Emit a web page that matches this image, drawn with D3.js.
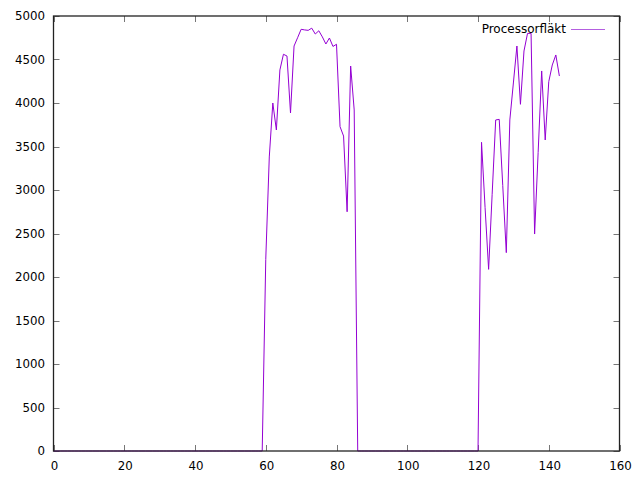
<!DOCTYPE html>
<html><head><meta charset="utf-8">
<script src="https://cdn.jsdelivr.net/npm/d3@7"></script>
<style>body{margin:0;background:#fff}svg{display:block}</style>
</head><body>
<svg id="c" width="640" height="480"></svg>
<script>
const seriesName = "Processorfläkt";
const xTicks = [0,20,40,60,80,100,120,140,160];
const yTicks = [0,500,1000,1500,2000,2500,3000,3500,4000,4500,5000];
// x = 0..143
const zerosA = Array(60).fill(0); // 0..59
const burst1 = [2200,3380,4000,3690,4380,4560,4540,3885,4655,4750,4847,4840,4835,4860,4793,4830,4760,4678,4747,4650,4675,3728,3620,2750,4425,3920]; // 60..85
const zerosB = Array(35).fill(0); // 86..120
const burst2 = [3548,2800,2088,2950,3805,3812,3050,2280,3805,4230,4655,3985,4598,4800,4800,2494,3430,4368,3575,4245,4437,4552,4310]; // 121..143
const values = [].concat(zerosA, burst1, zerosB, burst2);
const xs = values.map((v,i)=>i);

const L=53.5, R=619.5, T=16, B=451;
const svg = d3.select("#c");
const x = d3.scaleLinear().domain([0,160]).range([L,R]);
const y = d3.scaleLinear().domain([0,5000]).range([B,T]);
const font = "DejaVu Sans, sans-serif";
const fs = "11.8px";

const g = svg.append("g");
const tk = 6;
xTicks.forEach(t=>{
  const px = Math.round(x(t))+0.5;
  g.append("line").attr("x1",px).attr("x2",px).attr("y1",B).attr("y2",B-tk).attr("stroke","#777");
  g.append("line").attr("x1",px).attr("x2",px).attr("y1",T).attr("y2",T+tk).attr("stroke","#777");
  g.append("text").attr("x",x(t)+1).attr("y",466).attr("dy","0.35em").attr("text-anchor","middle")
    .attr("font-family",font).attr("font-size",fs).attr("fill","#000").text(t);
});
yTicks.forEach(t=>{
  const py = Math.round(y(t))+0.5;
  g.append("line").attr("x1",L).attr("x2",L+tk).attr("y1",py).attr("y2",py).attr("stroke","#777");
  g.append("line").attr("x1",R).attr("x2",R-tk).attr("y1",py).attr("y2",py).attr("stroke","#777");
  g.append("text").attr("x",45).attr("y",y(t)).attr("dy","0.35em").attr("text-anchor","end")
    .attr("font-family",font).attr("font-size",fs).attr("fill","#000").text(t);
});

const line = d3.line().x((d,i)=>x(xs[i])).y(d=>y(d));
svg.append("path").datum(values).attr("d",line).attr("fill","none")
  .attr("stroke","#9400d3").attr("stroke-width",1);

svg.append("rect").attr("x",L).attr("y",T).attr("width",R-L).attr("height",B-T)
  .attr("fill","none").attr("stroke","#222").attr("stroke-width",1.3);

svg.append("text").attr("x",566).attr("y",29).attr("dy","0.35em").attr("text-anchor","end")
  .attr("font-family",font).attr("font-size","12px").attr("fill","#000").text(seriesName);
svg.append("line").attr("x1",571).attr("x2",605).attr("y1",29.5).attr("y2",29.5)
  .attr("stroke","#b45ee0").attr("stroke-width",1);
</script>
</body></html>
